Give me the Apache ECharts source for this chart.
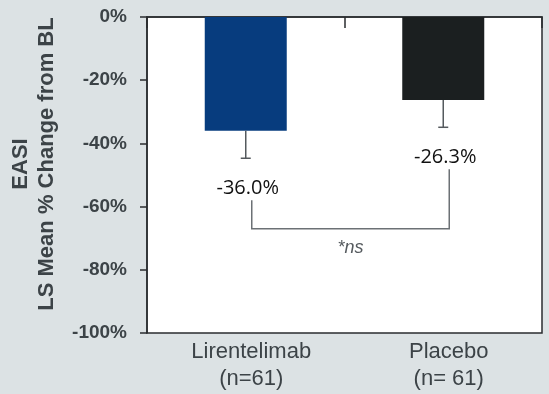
<!DOCTYPE html>
<html>
<head>
<meta charset="utf-8">
<script src="https://cdn.jsdelivr.net/npm/echarts@6/dist/echarts.min.js"></script>
<style>
  html, body { margin: 0; padding: 0; background: #dce2e4; }
  #chart { width: 549px; height: 394px; }
</style>
</head>
<body>
<div id="chart"></div>
<script>
// EASI: LS mean % change from baseline, by treatment arm
const categories = ['Lirentelimab\n(n=61)', 'Placebo\n(n= 61)'];
const lsMeanChange = [-36.0, -26.3];
const errorLower = [-44.7, -34.9];
const barColors = ['#073c7e', '#1b1f20'];
const comparisonLabel = '*ns';
const yTitleLines = ['EASI', 'LS Mean % Change from BL'];

const textColor = '#3c4347';
const frameColor = '#2a2d2f';
const bracketLevel = -67;

const chart = echarts.init(document.getElementById('chart'), null, { renderer: 'canvas' });

const option = {
  backgroundColor: '#dce2e4',
  animation: false,
  grid: {
    left: 147, right: 7, top: 17, bottom: 61,
    show: true,
    backgroundColor: '#ffffff',
    borderColor: frameColor,
    borderWidth: 1.5
  },
  graphic: [
    {
      type: 'text', x: 21, y: 164, rotation: Math.PI / 2,
      style: { text: yTitleLines[0], font: 'bold 22px "Liberation Sans", Arial, sans-serif',
               fill: textColor, align: 'center', verticalAlign: 'middle' }
    },
    {
      type: 'text', x: 47, y: 164, rotation: Math.PI / 2,
      style: { text: yTitleLines[1], font: 'bold 22px "Liberation Sans", Arial, sans-serif',
               fill: textColor, align: 'center', verticalAlign: 'middle' }
    }
  ],
  xAxis: [
    {
      type: 'category',
      data: categories,
      position: 'bottom',
      axisLine: { show: false, onZero: false },
      axisTick: { show: false },
      axisLabel: {
        margin: 5,
        fontSize: 22,
        lineHeight: 27,
        color: textColor,
        fontFamily: '"Liberation Sans", Arial, sans-serif',
        padding: [0, 0, 0, 11]
      }
    },
    {
      type: 'category',
      data: categories,
      position: 'top',
      axisLine: { show: true, onZero: false, lineStyle: { color: frameColor, width: 1.5 } },
      axisTick: { show: true, inside: true, length: 11, lineStyle: { color: frameColor, width: 1.5 } },
      axisLabel: { show: false }
    }
  ],
  yAxis: {
    type: 'value',
    min: -100,
    max: 0,
    interval: 20,
    axisLine: { show: true, lineStyle: { color: frameColor, width: 1.5 } },
    axisTick: { show: true, length: 7, lineStyle: { color: frameColor, width: 1.5 } },
    splitLine: { show: false },
    axisLabel: {
      margin: 20,
      formatter: '{value}%',
      fontSize: 19,
      fontWeight: 'bold',
      color: textColor,
      fontFamily: '"Liberation Sans", Arial, sans-serif'
    }
  },
  series: [
    {
      type: 'bar',
      xAxisIndex: 0,
      barWidth: 82,
      data: lsMeanChange.map((v, i) => ({ value: v, itemStyle: { color: barColors[i] } })),
      z: 2
    },
    {
      // error bars with the value label beneath each cap
      type: 'custom',
      xAxisIndex: 0,
      z: 3,
      clip: false,
      data: lsMeanChange.map((v, i) => [i, v, errorLower[i]]),
      renderItem: function (params, api) {
        const top = api.coord([api.value(0), api.value(1)]);
        const low = api.coord([api.value(0), api.value(2)]);
        const stroke = { stroke: '#555a5e', lineWidth: 1.5 };
        return {
          type: 'group',
          children: [
            { type: 'line', shape: { x1: top[0], y1: top[1], x2: low[0], y2: low[1] }, style: stroke },
            { type: 'line', shape: { x1: low[0] - 5, y1: low[1], x2: low[0] + 5, y2: low[1] }, style: stroke },
            {
              type: 'text', x: low[0] + 2, y: low[1] + 30,
              style: {
                text: api.value(1).toFixed(1) + '%',
                font: '20px "Open Sans", sans-serif',
                fill: '#111111', align: 'center', verticalAlign: 'middle'
              }
            }
          ]
        };
      }
    },
    {
      // comparison bracket between the two arms
      type: 'custom',
      xAxisIndex: 0,
      z: 3,
      clip: false,
      data: [[0, bracketLevel]],
      renderItem: function (params, api) {
        const a = api.coord([0, errorLower[0]]);
        const b = api.coord([1, errorLower[1]]);
        const yb = api.coord([0, bracketLevel])[1];
        const xa = a[0] + 6, xb = b[0] + 6;
        const stroke = { stroke: '#6c7175', lineWidth: 1.5, fill: null };
        return {
          type: 'group',
          children: [
            { type: 'polyline', shape: { points: [[xa, a[1] + 42], [xa, yb], [xb, yb], [xb, b[1] + 42]] }, style: stroke },
            {
              type: 'text', x: (xa + xb) / 2, y: yb + 19,
              style: {
                text: comparisonLabel,
                font: 'italic 18px "Liberation Sans", Arial, sans-serif',
                fill: '#555a5e', align: 'center', verticalAlign: 'middle'
              }
            }
          ]
        };
      }
    }
  ]
};

chart.setOption(option);
</script>
</body>
</html>
